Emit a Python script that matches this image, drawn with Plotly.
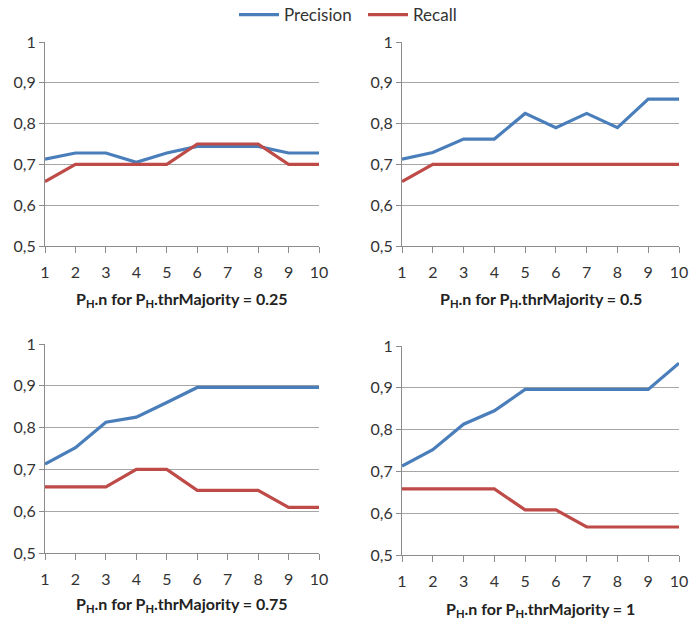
import plotly.graph_objects as go

x_vals = [1, 2, 3, 4, 5, 6, 7, 8, 9, 10]

prec_025 = [0.713, 0.728, 0.728, 0.705, 0.728, 0.744, 0.744, 0.744, 0.728, 0.728]
rec_025 = [0.658, 0.700, 0.700, 0.700, 0.700, 0.750, 0.750, 0.750, 0.700, 0.700]

prec_05 = [0.713, 0.729, 0.762, 0.762, 0.825, 0.790, 0.825, 0.790, 0.860, 0.860]
rec_05 = [0.658, 0.700, 0.700, 0.700, 0.700, 0.700, 0.700, 0.700, 0.700, 0.700]

prec_075 = [0.713, 0.752, 0.813, 0.825, 0.860, 0.896, 0.896, 0.896, 0.896, 0.896]
rec_075 = [0.658, 0.658, 0.658, 0.700, 0.700, 0.650, 0.650, 0.650, 0.609, 0.609]

prec_1 = [0.713, 0.752, 0.813, 0.845, 0.896, 0.896, 0.896, 0.896, 0.896, 0.959]
rec_1 = [0.658, 0.658, 0.658, 0.658, 0.608, 0.608, 0.567, 0.567, 0.567, 0.567]

titles = [
    "P<sub>H</sub>.n for P<sub>H</sub>.thrMajority = 0.25",
    "P<sub>H</sub>.n for P<sub>H</sub>.thrMajority = 0.5",
    "P<sub>H</sub>.n for P<sub>H</sub>.thrMajority = 0.75",
    "P<sub>H</sub>.n for P<sub>H</sub>.thrMajority = 1",
]

BLUE = "#4A7EBB"
RED = "#BE4B48"
FONT = "Lato"

W, H = 690, 622
# panel pixel boxes: (x0, x1, ytop, ybottom)
boxes = [(45, 319, 42, 246), (402, 679, 42, 246), (45, 319, 344, 553), (402, 679, 346, 555)]
title_y = [299, 299, 604, 609]
series = [(prec_025, rec_025), (prec_05, rec_05), (prec_075, rec_075), (prec_1, rec_1)]

fig = go.Figure()
layout = {}
annotations = []
for i, ((p, r), (x0, x1, yt, yb)) in enumerate(zip(series, boxes)):
    n = "" if i == 0 else str(i + 1)
    xa, ya = "x" + n, "y" + n
    fig.add_trace(go.Scatter(x=x_vals, y=p, mode="lines", name="Precision",
                             line=dict(color=BLUE, width=3.2), xaxis=xa, yaxis=ya,
                             showlegend=(i == 0), legendgroup="p"))
    fig.add_trace(go.Scatter(x=x_vals, y=r, mode="lines", name="Recall",
                             line=dict(color=RED, width=3.2), xaxis=xa, yaxis=ya,
                             showlegend=(i == 0), legendgroup="r"))
    layout["xaxis" + n] = dict(
        domain=[x0 / W, x1 / W], range=[1, 10], tickvals=x_vals, anchor=ya,
        showgrid=False, showline=True, linecolor="#8C8C8C", linewidth=1.2,
        ticks="outside", ticklen=6, tickcolor="#8C8C8C", ticklabelstandoff=6,
        tickfont=dict(family=FONT, size=16, color="#333333"), zeroline=False,
    )
    layout["yaxis" + n] = dict(
        domain=[1 - yb / H, 1 - yt / H], range=[0.5, 1.0], tickvals=[0.5, 0.6, 0.7, 0.8, 0.9, 1.0],
        anchor=xa, showgrid=True, gridcolor="#A6A6A6", gridwidth=1.2,
        showline=True, linecolor="#8C8C8C", linewidth=1.2,
        ticks="outside", ticklen=5, tickcolor="#8C8C8C",
        tickfont=dict(family=FONT, size=16, color="#333333"), zeroline=False,
    )
    annotations.append(dict(
        text="<b>" + titles[i] + "</b>", xref="paper", yref="paper",
        x=(x0 + x1) / 2 / W, y=1 - title_y[i] / H, showarrow=False,
        xanchor="center", yanchor="middle",
        font=dict(family=FONT, size=16, color="#222222"),
    ))

fig.update_layout(
    **layout,
    annotations=annotations,
    width=W, height=H,
    margin=dict(l=0, r=0, t=0, b=0, autoexpand=False),
    paper_bgcolor="white", plot_bgcolor="white",
    separators=", ",
    showlegend=True,
    legend=dict(orientation="h", x=0.5 + 18 / W, xanchor="center", y=1.0 + 3 / H, yanchor="top",
                font=dict(family=FONT, size=17, color="#333333"),
                itemwidth=40, entrywidth=74, bgcolor="rgba(0,0,0,0)"),
    font=dict(family=FONT),
)

fig.write_html("out.html",
               config={"displayModeBar": False},
               post_script="document.body.style.margin='0';document.body.style.padding='0';document.body.style.overflow='hidden';")
